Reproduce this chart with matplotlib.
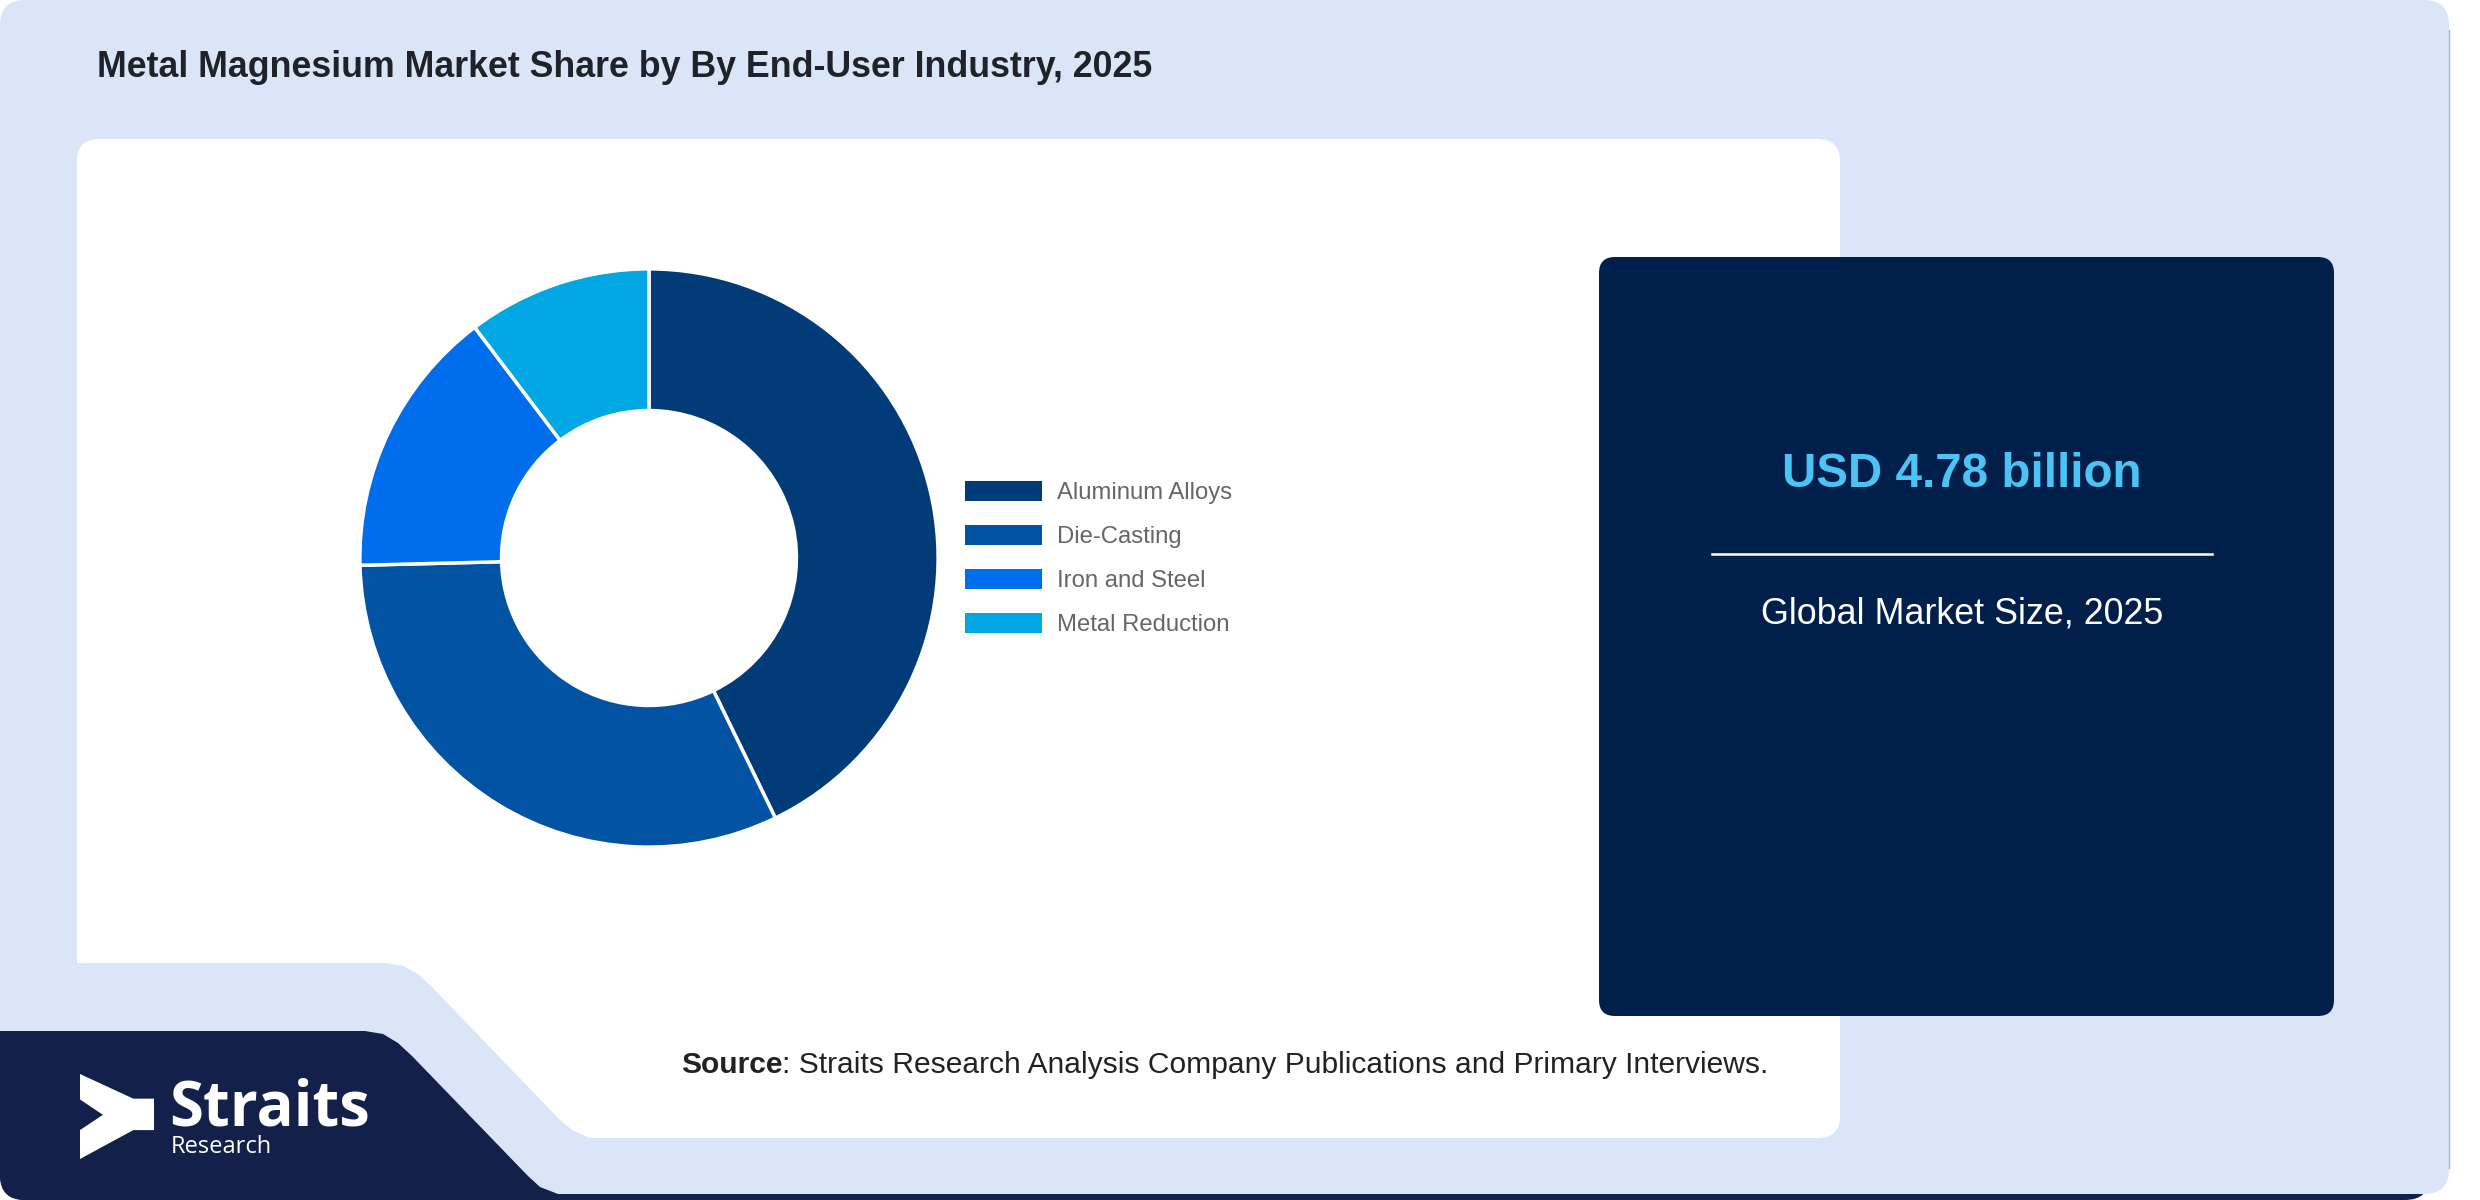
import matplotlib.pyplot as plt
from matplotlib.patches import FancyBboxPatch, Polygon, Rectangle

# data
segments = ["Aluminum Alloys", "Die-Casting", "Iron and Steel", "Metal Reduction"]
shares = [42.8, 31.8, 15.1, 10.3]
seg_colors = ["#023c78", "#0353a4", "#006ded", "#00a7e2"]

title = "Metal Magnesium Market Share by By End-User Industry, 2025"
market_value = "USD 4.78 billion"
market_caption = "Global Market Size, 2025"
source_head = "Source"
source_rest = ": Straits Research Analysis Company Publications and Primary Interviews."

plt.rcParams['font.family'] = ['Liberation Sans', 'DejaVu Sans']

W, H = 2480, 1200
fig = plt.figure(figsize=(W / 100, H / 100), dpi=100, facecolor='white')

bg = fig.add_axes([0, 0, 1, 1])
bg.set_xlim(0, W)
bg.set_ylim(H, 0)
bg.axis('off')

light = "#dae6f8"
navy = "#13204a"
panel = "#001f4a"

# outer light panel with a dark edge underneath
under = FancyBboxPatch((0, 12), 2430, 1188, boxstyle="round,pad=0,rounding_size=25",
                       fc=navy, ec='none')
bg.add_patch(under)
bg.add_patch(FancyBboxPatch((0, 0), 2449, 1194, boxstyle="round,pad=0,rounding_size=25",
                            fc=light, ec='none'))
bg.plot([2449, 2449], [30, 1168], color='#aab6cc', lw=1)

# white chart card, notch cut out bottom-left
bg.add_patch(FancyBboxPatch((77, 139), 1763, 999, boxstyle="round,pad=0,rounding_size=22",
                            fc='white', ec='none'))
bg.add_patch(Polygon([(60, 963), (385, 963), (403, 966), (418, 974), (432, 987), (560, 1120),
                      (572, 1130), (590, 1138), (60, 1145)], closed=True, fc=light, ec='none'))

# navy logo block
logo_bg = Polygon([(0, 1031), (365, 1031), (383, 1034), (398, 1043), (412, 1056), (528, 1176),
                   (540, 1187), (558, 1194), (700, 1194), (700, 1200), (0, 1200)],
                  closed=True, fc=navy, ec='none')
bg.add_patch(logo_bg)
logo_bg.set_clip_path(under)

# dark market size panel
bg.add_patch(FancyBboxPatch((1599, 257), 735, 759, boxstyle="round,pad=0,rounding_size=16",
                            fc=panel, ec='none'))

renderer = fig.canvas.get_renderer()


def fit(txts, target):
    w = sum(t.get_window_extent(renderer).width for t in txts)
    for t in txts:
        t.set_fontsize(t.get_fontsize() * target / w)


t_title = bg.text(97, 77, title, fontsize=24, fontweight='bold', color='#1f2329',
                  va='baseline', ha='left')
fit([t_title], 1061)

t_val = bg.text(1962, 487, market_value, fontsize=32, fontweight='bold', color='#4cc3f5',
                va='baseline', ha='center')
fit([t_val], 360)
bg.plot([1712, 2212], [554, 554], color='white', lw=1.8)
t_cap = bg.text(1962, 623, market_caption, fontsize=24, color='white', va='baseline', ha='center')
fit([t_cap], 403)

s1 = bg.text(681, 1073, source_head, fontsize=20, fontweight='bold', color='#222222',
             va='baseline', ha='left')
s2 = bg.text(760, 1073, source_rest, fontsize=20, color='#222222', va='baseline', ha='left')
fit([s1, s2], 1086)
x_end = s1.get_window_extent(renderer).x1
s2.set_x(x_end)

# logo
lx, ly, lw_, lh = 80, 1074, 74, 85
pts = [(0, 0), (0.72, 0.29), (1, 0.29), (1, 0.66), (0.72, 0.66), (0, 1), (0, 0.66), (0.31, 0.48), (0, 0.30)]
bg.add_patch(Polygon([(lx + u * lw_, ly + v * lh) for u, v in pts], closed=True, fc='white', ec='none'))
t_logo = bg.text(169, 1125, "Straits", fontsize=44, fontweight='bold', color='white', family=['Open Sans'],
                 va='baseline', ha='left')
fit([t_logo], 201)
bg.text(171, 1153, "Research", fontsize=17, color='white', family=['Open Sans'], va='baseline', ha='left')

# donut
cx, cy, R = 649, 558, 292
ax = fig.add_axes([(cx - R) / W, (H - cy - R) / H, 2 * R / W, 2 * R / H])
ax.pie(shares, colors=seg_colors, startangle=90, counterclock=False, radius=1,
       wedgeprops=dict(width=0.49, edgecolor='white', linewidth=2.5))
ax.set_xlim(-1.01, 1.01)
ax.set_ylim(-1.01, 1.01)
ax.axis('off')

# legend
leg_txt = []
for i, (lab, col) in enumerate(zip(segments, seg_colors)):
    yy = 491 + i * 44
    bg.add_patch(Rectangle((965, yy - 10), 77, 20, fc=col, ec='none'))
    leg_txt.append(bg.text(1057, yy + 8, lab, fontsize=17, color='#666666', va='baseline', ha='left'))
scale = 176 / leg_txt[0].get_window_extent(renderer).width
for t in leg_txt:
    t.set_fontsize(t.get_fontsize() * scale)

fig.savefig("out.png", dpi=100, facecolor='white')
